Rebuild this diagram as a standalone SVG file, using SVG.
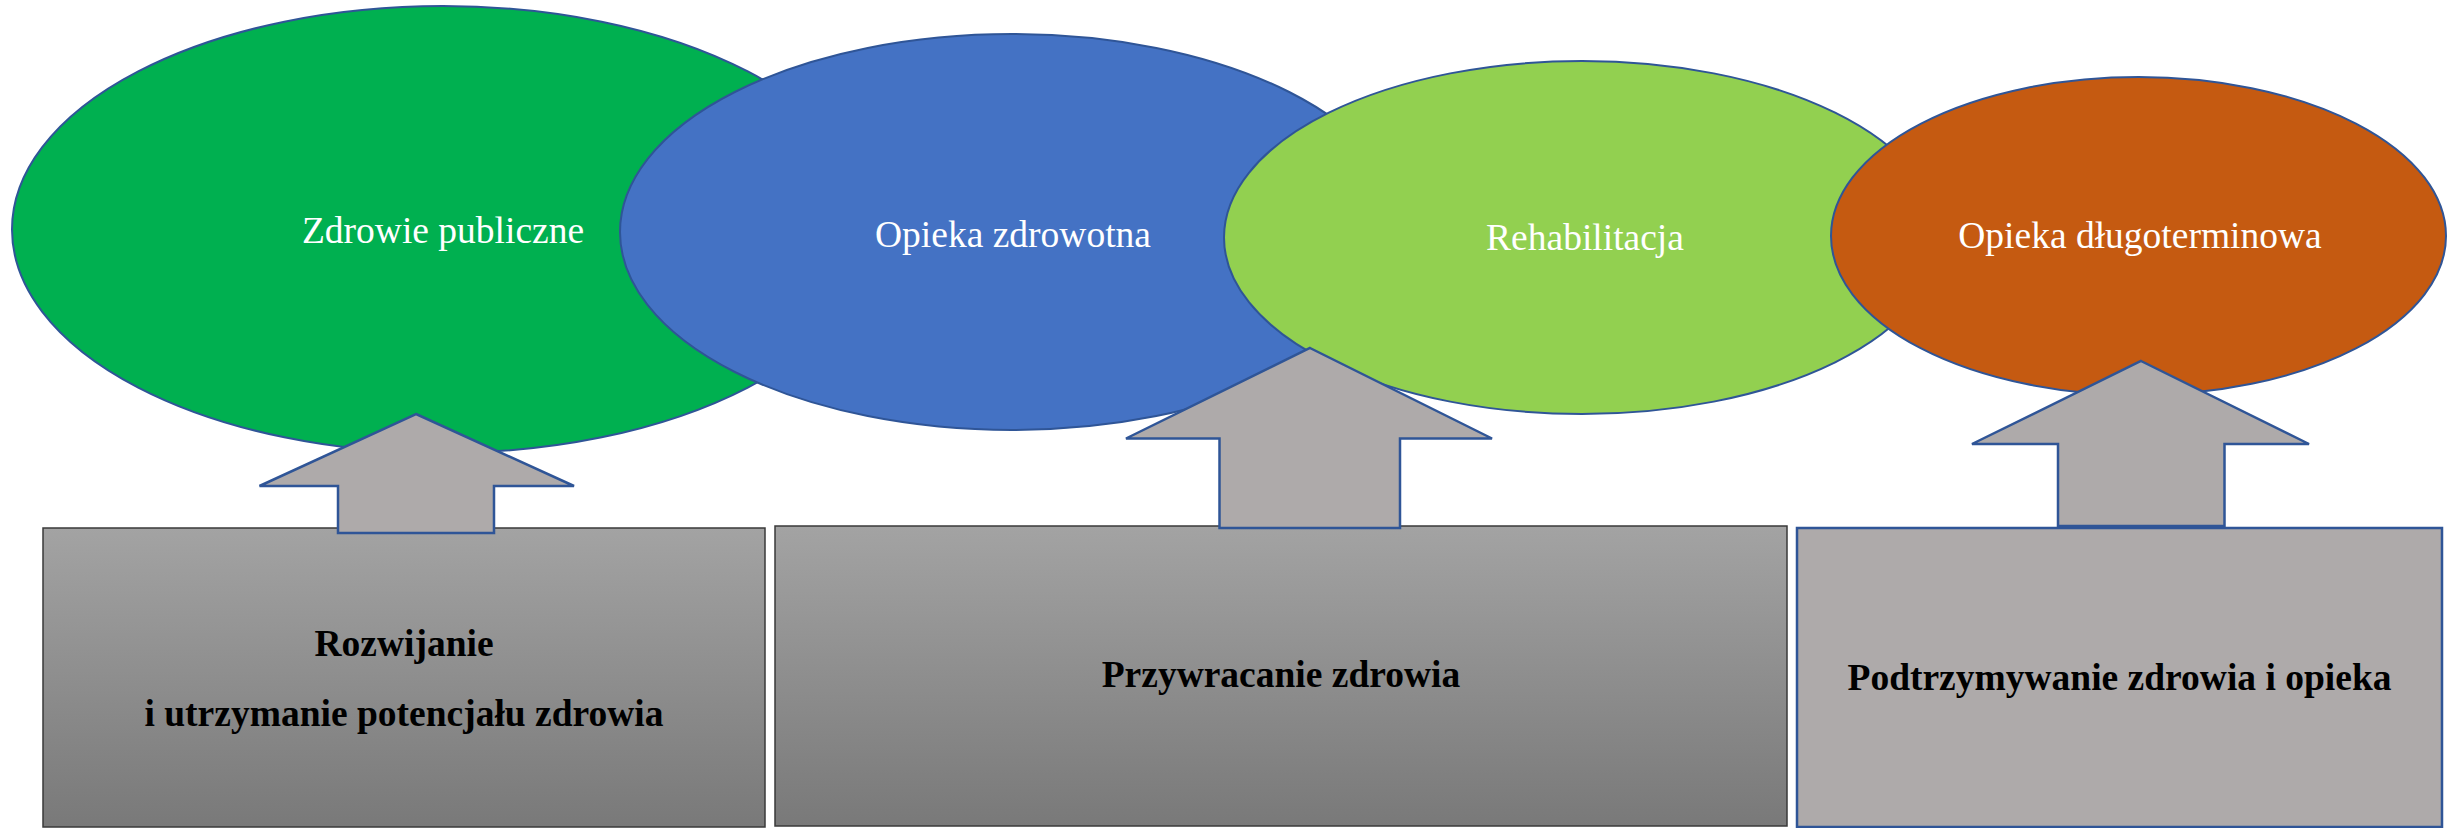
<svg xmlns="http://www.w3.org/2000/svg" width="2448" height="828" viewBox="0 0 2448 828">
<defs>
<linearGradient id="gbox" x1="0" y1="0" x2="0" y2="1">
<stop offset="0" stop-color="#a3a3a3"/>
<stop offset="1" stop-color="#797979"/>
</linearGradient>
<style>
.ell{stroke:#2f5597;stroke-width:2}
.lbl{font-family:"Liberation Serif","Times New Roman",serif;font-size:37.5px;fill:#ffffff;text-anchor:middle}
.btxt{font-family:"Liberation Serif","Times New Roman",serif;font-size:37.5px;font-weight:bold;fill:#000000;text-anchor:middle}
.gbox{fill:url(#gbox);stroke:#3a3a3a;stroke-width:1.5}
.arrow{fill:#aeaaaa;stroke:#2f5597;stroke-width:2.5;stroke-linejoin:miter}
</style>
</defs>
<rect width="2448" height="828" fill="#ffffff"/>
<g id="zdrowie-publiczne">
<ellipse class="ell" cx="443" cy="229.5" rx="431" ry="223.5" fill="#00b050"/>
</g>
<g id="opieka-zdrowotna">
<ellipse class="ell" cx="1012" cy="232" rx="392" ry="198" fill="#4472c4"/>
</g>
<g id="rehabilitacja">
<ellipse class="ell" cx="1582" cy="237.5" rx="358" ry="176.5" fill="#92d050"/>
</g>
<g id="opieka-dlugoterminowa">
<ellipse class="ell" cx="2138.5" cy="236" rx="307.5" ry="159" fill="#c55a11"/>
</g>
<g id="labels">
<text class="lbl" x="443" y="243">Zdrowie publiczne</text>
<text class="lbl" x="1013" y="247">Opieka zdrowotna</text>
<text class="lbl" x="1585" y="250">Rehabilitacja</text>
<text class="lbl" x="2140" y="248">Opieka długoterminowa</text>
</g>
<g id="rozwijanie">
<rect class="gbox" x="43" y="528" width="722" height="299"/>
<text class="btxt" x="404" y="656">Rozwijanie</text>
<text class="btxt" x="404" y="726">i utrzymanie potencjału zdrowia</text>
</g>
<g id="przywracanie">
<rect class="gbox" x="775" y="526" width="1012" height="300"/>
<text class="btxt" x="1281" y="687">Przywracanie zdrowia</text>
</g>
<g id="podtrzymywanie">
<rect x="1797" y="528" width="645" height="299" fill="#aeaaaa" stroke="#2f5597" stroke-width="2.5"/>
<text class="btxt" x="2119.5" y="690">Podtrzymywanie zdrowia i opieka</text>
</g>
<g id="connectors">
<polygon class="arrow" points="416,414 574,486 494,486 494,533 338,533 338,486 259.5,486"/>
<polygon class="arrow" points="1310,348 1492,438.5 1400,438.5 1400,528 1219.5,528 1219.5,438.5 1126,438.5"/>
<polygon class="arrow" points="2141,361 2309,444 2224.5,444 2224.5,526 2058,526 2058,444 1972,444"/>
</g>
</svg>
